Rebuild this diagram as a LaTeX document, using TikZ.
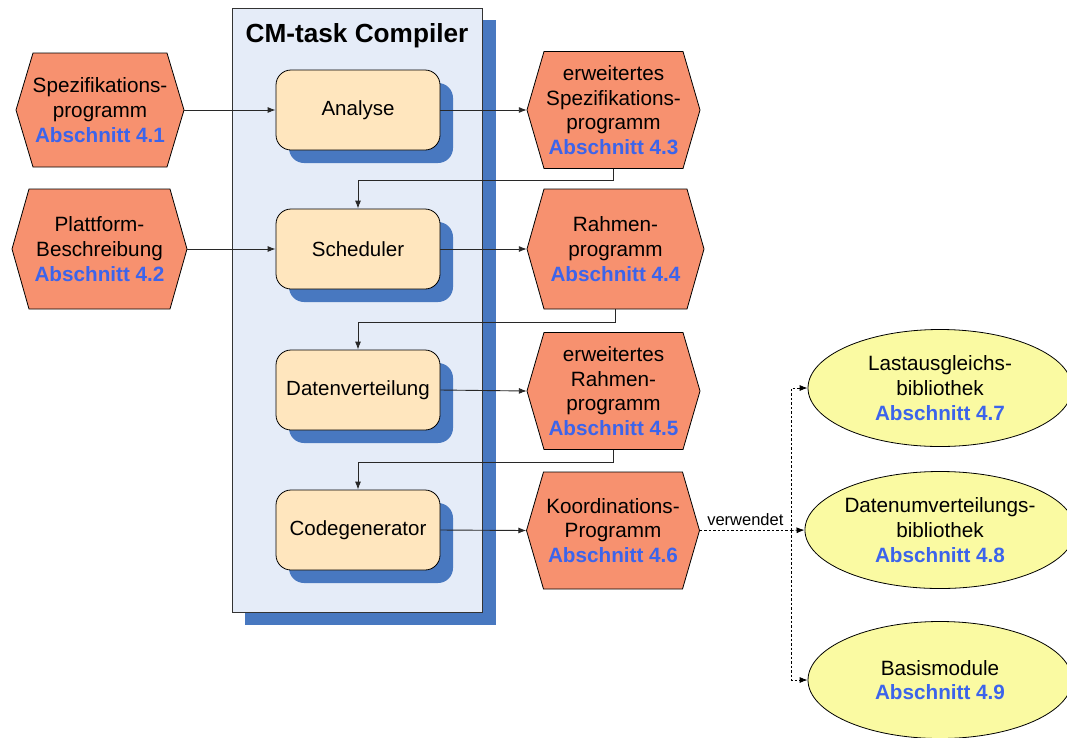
\documentclass[tikz,border=0pt]{standalone}
\usepackage{fontspec}
\setmainfont{Liberation Sans}
\usetikzlibrary{arrows.meta,shapes.geometric}

\definecolor{hexfill}{RGB}{247,145,111}
\definecolor{libfill}{RGB}{250,250,162}
\definecolor{stagefill}{RGB}{255,230,190}
\definecolor{compfill}{RGB}{229,236,248}
\definecolor{shadowblue}{RGB}{72,120,192}
\definecolor{secblue}{RGB}{60,100,235}
\definecolor{linegray}{RGB}{40,40,40}

\newcommand\sect[1]{\textcolor{secblue}{\bfseries Abschnitt #1}}

% hexagon: name, x, y, width, height, text
\newcommand\hexagon[6]{%
  \filldraw[hexline] ({#2-#4/2},#3) -- ({#2-#4/2+17},{#3-#5/2}) -- ({#2+#4/2-17},{#3-#5/2})
    -- ({#2+#4/2},#3) -- ({#2+#4/2-17},{#3+#5/2}) -- ({#2-#4/2+17},{#3+#5/2}) -- cycle;
  \node[hexbox, minimum width=#4, minimum height=#5] (#1) at (#2,#3) {#6};
}

% stage of the compiler with its shadow: name, y, text
\newcommand\stage[3]{%
  \fill[shadowblue, rounded corners=15pt] (289,{#2-27}) rectangle (453,{#2+53});
  \node[stagebox] (#1) at (358,#2) {#3};
}

\tikzset{
  hexline/.style={fill=hexfill, draw=black, line width=0.8pt, line join=miter},
  hexbox/.style={inner sep=0pt, align=center, font=\fontsize{20.7}{24.7}\selectfont},
  stagebox/.style={draw=black, line width=0.8pt, fill=stagefill, rounded corners=15pt,
    minimum width=164, minimum height=80, inner sep=0pt,
    font=\fontsize{20.5}{24.5}\selectfont},
  libbox/.style={ellipse, draw=black, line width=0.8pt, fill=libfill,
    minimum width=264, minimum height=117, inner sep=0pt, align=center,
    font=\fontsize{20.7}{24.7}\selectfont},
  conn/.style={draw=linegray, line width=0.9pt, -{Latex[length=8pt,width=6pt]}},
  uses/.style={draw=black, line width=0.8pt, dash pattern=on 2.5pt off 2pt,
    -{Latex[length=8pt,width=6pt]}},
}

\begin{document}
\begin{tikzpicture}[x=1pt, y=-1pt]
\useasboundingbox (0,0) rectangle (1067,737);
\clip (0,0) rectangle (1067,737);

% compiler frame with shadow
\fill[shadowblue] (245,20) rectangle (496,625);
\filldraw[fill=compfill, draw=black!80, line width=0.8pt] (232,8) rectangle (482,612);
\node[font=\fontsize{26.2}{31}\selectfont\bfseries] (title) at (357,36) {CM-task Compiler};

% compiler stages
\stage{ana}{110}{Analyse}
\stage{sched}{249}{Scheduler}
\stage{dist}{390}{Datenverteilung}
\stage{gen}{530}{Codegenerator}

% inputs and outputs
\hexagon{spec}{100}{110}{168}{114}{Spezifikations-\\programm\\\sect{4.1}}
\hexagon{plat}{99.5}{249}{175}{120}{Plattform-\\Beschreibung\\\sect{4.2}}
\hexagon{espec}{613.5}{110}{173}{117}{erweitertes\\Spezifikations-\\programm\\\sect{4.3}}
\hexagon{frame}{615.5}{249}{177}{120}{Rahmen-\\programm\\\sect{4.4}}
\hexagon{eframe}{613.5}{391}{173}{117}{erweitertes\\Rahmen-\\programm\\\sect{4.5}}
\hexagon{coord}{613}{530.5}{173}{117}{Koordinations-\\Programm\\\sect{4.6}}

% libraries
\node[libbox] (lb) at (940,388) {Lastausgleichs-\\bibliothek\\\sect{4.7}};
\node[libbox] (rd) at (940,530) {Datenumverteilungs-\\bibliothek\\\sect{4.8}};
\node[libbox] (bm) at (940,680) {Basismodule\\\sect{4.9}};

% data flow through the compiler
\draw[conn] (spec.east) -- (ana.west);
\draw[conn] (plat.east) -- (sched.west);
\draw[conn] (ana.east) -- (espec.west);
\draw[conn] (sched.east) -- (frame.west);
\draw[conn] (dist.east) -- (eframe.west);
\draw[conn] (gen.east) -- (coord.west);
\draw[conn] (espec.south) -- ++(0,12) -| (sched.north);
\draw[conn] (frame.south) -- ++(0,13) -| (dist.north);
\draw[conn] (eframe.south) -- ++(0,13) -| (gen.north);

% library usage
\coordinate (fork) at (791,530.5);
\draw[uses, -] (coord.east) -- node[midway, above=4pt, inner sep=0pt,
  font=\fontsize{16.5}{20}\selectfont] (uselabel) {verwendet} (fork);
\draw[uses] (fork) -- (rd.west);
\draw[uses] (fork) |- (lb.west);
\draw[uses] (fork) |- (bm.west);
\end{tikzpicture}
\end{document}
